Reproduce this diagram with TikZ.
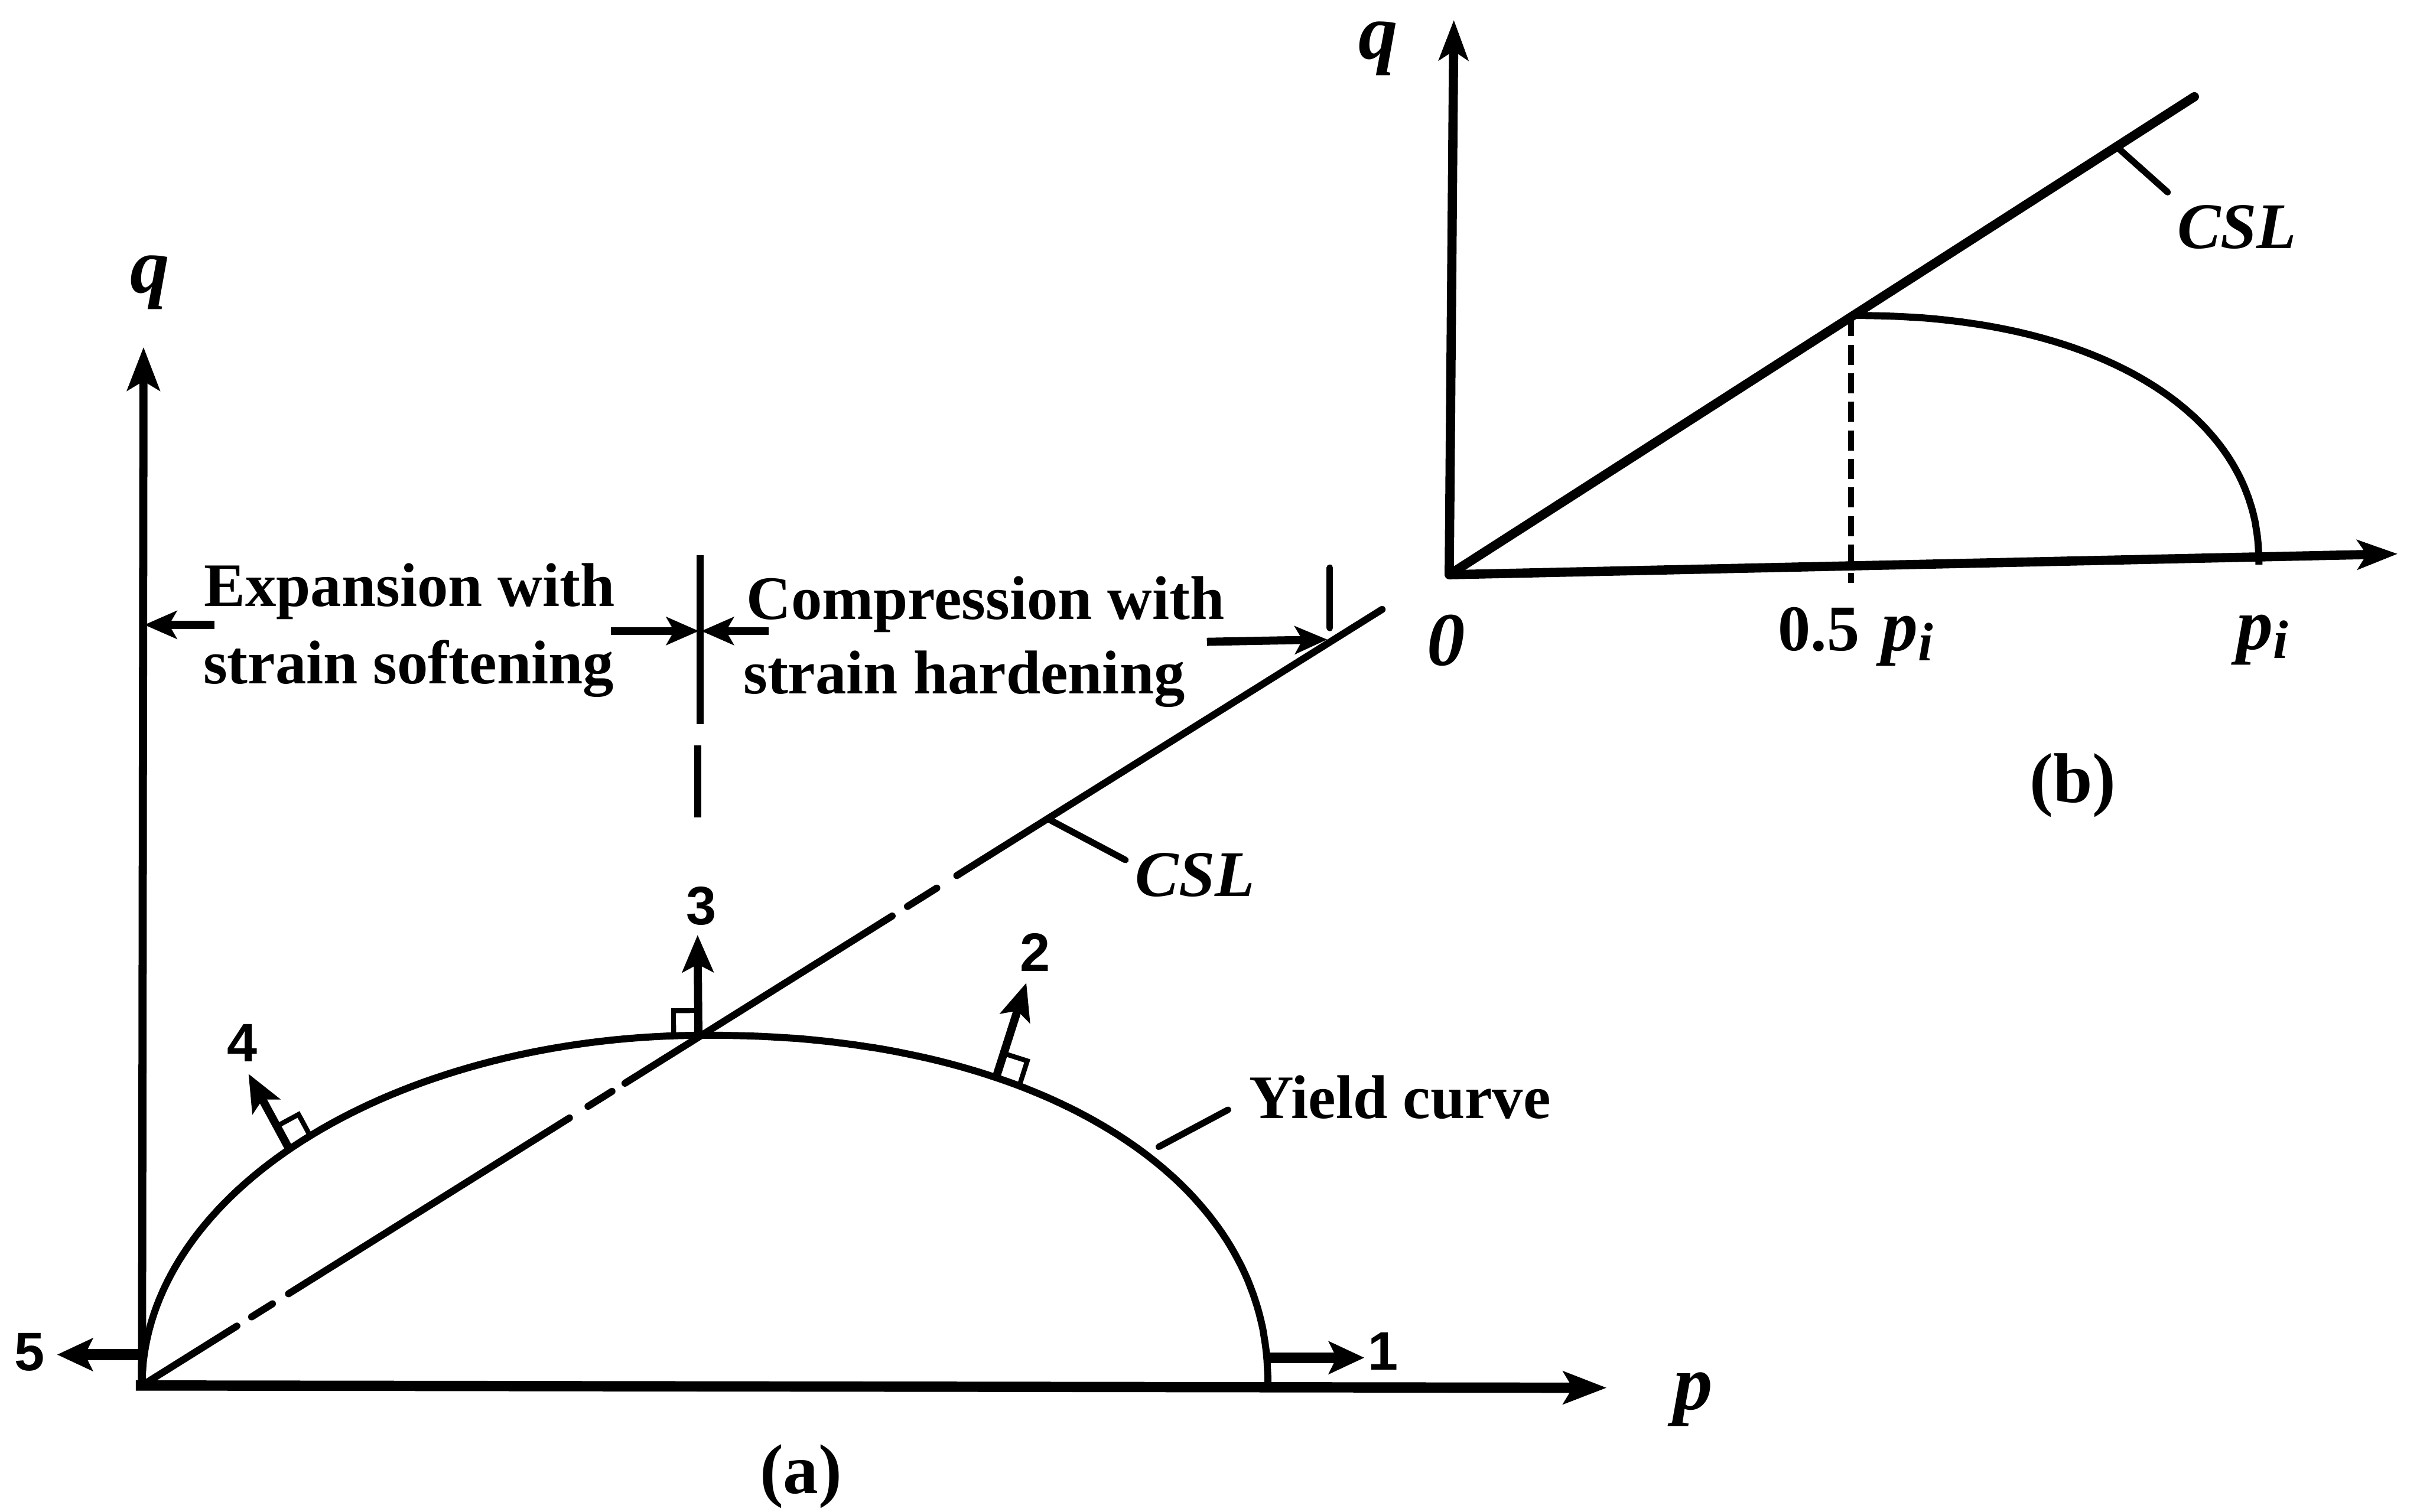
\documentclass[tikz,border=0pt]{standalone}
\usepackage{fontspec}
\setmainfont{Liberation Serif}
\setsansfont{Liberation Sans}
\usetikzlibrary{arrows.meta,calc}
\begin{document}
\begin{tikzpicture}[x=0.1mm,y=-0.1mm,
  axp/.style={line width=1.9pt,-{Stealth[length=2.8mm,width=2.1mm,inset=0.6mm]}},
  axq/.style={line width=1.5pt,-{Stealth[length=2.8mm,width=2.1mm,inset=0.6mm]}},
  axb/.style={line width=1.7pt,-{Stealth[length=2.6mm,width=1.9mm,inset=0.6mm]}},
  csl/.style={line width=1.3pt,line cap=round},
  cslb/.style={line width=1.7pt,line cap=round},
  yc/.style={line width=1.3pt},
  nrm/.style={line width=1.5pt,-{Stealth[length=2.4mm,width=2mm,inset=0.5mm]}},
  nrmthick/.style={line width=2pt,-{Stealth[length=2.3mm,width=2.1mm,inset=0.5mm]}},
  rbox/.style={line width=0.9pt},
  lead/.style={line width=1.2pt,line cap=round},
  dimarrow/.style={line width=1.5pt,-{Stealth[length=2.1mm,width=1.8mm,inset=0.5mm]}},
  divl/.style={line width=1.3pt},
  dashb/.style={line width=1.1pt,dash pattern=on 1.3mm off 0.55mm},
  lbl/.style={font=\fontsize{11.4}{13}\selectfont\bfseries,inner sep=0pt},
  csllbl/.style={font=\fontsize{12}{14}\selectfont\bfseries\itshape,inner sep=0pt},
  num/.style={font=\sffamily\bfseries\fontsize{10}{12}\selectfont,inner sep=0pt},
  axlbl/.style={font=\fontsize{14.5}{16}\selectfont\bfseries\itshape,inner sep=0pt},
  panelcap/.style={font=\fontsize{13}{15}\selectfont\bfseries,inner sep=0pt}
]
\useasboundingbox (0,0) rectangle (1568,979.7);

% ---------------- panel (a) ----------------
\coordinate (Oa) at (92,898);
\coordinate (qa) at (93,225);
\coordinate (pa) at (1041,899.5);
\coordinate (Ea) at (895.5,395);

\draw[axq] (Oa) -- (qa);
\draw[axp] (88,898) -- (pa);
\node[axlbl] (qlabA) at (97,183) {q};
\node[axlbl] (plabA) at (1097,907) {p};

% yield curve
\draw[yc] plot[domain=180:90,samples=70,variable=\t]
   ({456.75+364.75*cos(\t)},{898-227*sin(\t)})
  -- plot[domain=89.9:0.1,samples=80,variable=\t]
   ({456.75+364.75*exp(0.93*ln(cos(\t)))},{898-227*exp(0.93*ln(sin(\t)))})
  -- (821.5,898);

% CSL (chain line)
\draw[csl] (Oa) -- ($(Oa)!0.0765!(Ea)$)
  ($(Oa)!0.0884!(Ea)$) -- ($(Oa)!0.1052!(Ea)$)
  ($(Oa)!0.1182!(Ea)$) -- ($(Oa)!0.3447!(Ea)$)
  ($(Oa)!0.3597!(Ea)$) -- ($(Oa)!0.3790!(Ea)$)
  ($(Oa)!0.3895!(Ea)$) -- ($(Oa)!0.6049!(Ea)$)
  ($(Oa)!0.6173!(Ea)$) -- ($(Oa)!0.6409!(Ea)$)
  ($(Oa)!0.6571!(Ea)$) -- (Ea);

% CSL label
\coordinate (lcA1) at (679.3,530.9);
\coordinate (lcA2) at (729.2,557.4);
\draw[lead] (lcA1) -- (lcA2);
\node[csllbl,anchor=base west] (cslA) at (735,581) {CSL};

% yield curve label
\coordinate (ly1) at (750.8,743.3);
\coordinate (ly2) at (795.7,719.3);
\draw[lead] (ly1) -- (ly2);
\node[lbl,anchor=base west] (yieldlab) at (808.6,725) {Yield curve};

% normals
\coordinate (b5) at (93,878);   \coordinate (e5) at (37,878);
\coordinate (b1) at (820.5,880); \coordinate (e1) at (884,880);
\coordinate (b3) at (452.5,671); \coordinate (e3) at (452,606);
\coordinate (b2) at (645.5,698); \coordinate (e2) at (665,637);
\coordinate (b4) at (187,744);   \coordinate (e4) at (161,696);
\draw[nrmthick] (b5) -- (e5);
\draw[nrmthick] (b1) -- (e1);
\draw[nrm] (b3) -- (e3);
\draw[nrm] (b2) -- (e2);
\draw[nrm] (b4) -- (e4);

% right-angle boxes
\path ($(b3)!1.6mm!(e3)$) coordinate (r3a);
\path ($(r3a)!1.6mm!-90:(b3)$) coordinate (r3b);
\path ($(b3)!1.6mm!90:(e3)$) coordinate (r3c);
\draw[rbox] (r3a) -- (r3b) -- (r3c);
\path ($(b2)!1.6mm!(e2)$) coordinate (r2a);
\path ($(r2a)!1.6mm!90:(b2)$) coordinate (r2b);
\path ($(b2)!1.6mm!-90:(e2)$) coordinate (r2c);
\draw[rbox] (r2a) -- (r2b) -- (r2c);
\path ($(b4)!1.6mm!(e4)$) coordinate (r4a);
\path ($(r4a)!1.6mm!90:(b4)$) coordinate (r4b);
\path ($(b4)!1.6mm!-90:(e4)$) coordinate (r4c);
\draw[rbox] (r4a) -- (r4b) -- (r4c);

\node[num] (n1) at (896,876) {1};
\node[num] (n2) at (670.7,617.3) {2};
\node[num] (n3) at (454.4,587.3) {3};
\node[num] (n4) at (157,676) {4};
\node[num] (n5) at (19,876.5) {5};

% divider and region arrows
\coordinate (dT) at (453.6,359.8);
\coordinate (dB) at (453.6,469.5);
\coordinate (dd1) at (452,483);
\coordinate (dd2) at (452,530);
\draw[divl] (dT) -- (dB);
\draw[divl] (dd1) -- (dd2);
\coordinate (ka1) at (139,405);   \coordinate (ka2) at (93.5,405);
\coordinate (kb1) at (396,409);   \coordinate (kb2) at (452.8,409);
\coordinate (kc1) at (498,409);   \coordinate (kc2) at (454.4,409);
\coordinate (kd1) at (782,416);   \coordinate (kd2) at (860,414.5);
\coordinate (tk1) at (861.7,368); \coordinate (tk2) at (861.7,407);
\draw[dimarrow] (ka1) -- (ka2);
\draw[dimarrow] (kb1) -- (kb2);
\draw[dimarrow] (kc1) -- (kc2);
\draw[dimarrow] (kd1) -- (kd2);
\draw[lead] (tk1) -- (tk2);

\node[lbl,anchor=base west] (ex1) at (131.6,393) {Expansion with};
\node[lbl,anchor=base west] (ex2) at (131,443) {strain softening};
\node[lbl,anchor=base west] (co1) at (483,401.5) {Compression with};
\node[lbl,anchor=base west] (co2) at (481,449.5) {strain hardening};

\node[panelcap] (capA) at (519,957) {(a)};

% ---------------- panel (b) ----------------
\coordinate (Ob) at (939,372.5);
\coordinate (qb) at (942,13);
\coordinate (pb) at (1553.5,359);
\coordinate (Eb) at (1421.8,62.7);
\draw[axb] (Ob) -- (qb);
\draw[axb] (Ob) -- (pb);
\draw[cslb] (Ob) -- (Eb);
\coordinate (topb) at (1199.5,205);
\coordinate (footb) at (1199.5,378);
\draw[yc] (1199.5,204.5)
  -- plot[domain=89.9:0.1,samples=80,variable=\t]
   ({1200+263.6*exp(0.91*ln(cos(\t)))},{366-161.5*exp(0.91*ln(sin(\t)))})
  -- (1463.6,366);
\draw[dashb] (topb) -- (footb);

\coordinate (lcB1) at (1373,96.5);
\coordinate (lcB2) at (1404.5,124.6);
\draw[lead] (lcB1) -- (lcB2);
\node[csllbl,anchor=base west] (cslB) at (1410,161) {CSL};

\node[axlbl] (qlabB) at (893,31.6) {q};
\node[font=\fontsize{14}{16}\selectfont\bfseries\itshape,inner sep=0pt] (zeroB) at (937,415) {0};
\node[anchor=base west,inner sep=0pt,font=\fontsize{12}{14}\selectfont\bfseries] (halfB) at (1151.5,421.5)
  {0.5\hspace{4pt}{\fontsize{13.5}{15}\selectfont\itshape p}\raisebox{-0.35ex}{\fontsize{10}{10}\selectfont\itshape i}};
\node[anchor=base west,inner sep=0pt,font=\bfseries] (piB) at (1448.4,421)
  {{\fontsize{13.5}{15}\selectfont\itshape p}\raisebox{-0.35ex}{\fontsize{10}{10}\selectfont\itshape i}};
\node[panelcap] (capB) at (1343,509) {(b)};
\end{tikzpicture}
\end{document}
